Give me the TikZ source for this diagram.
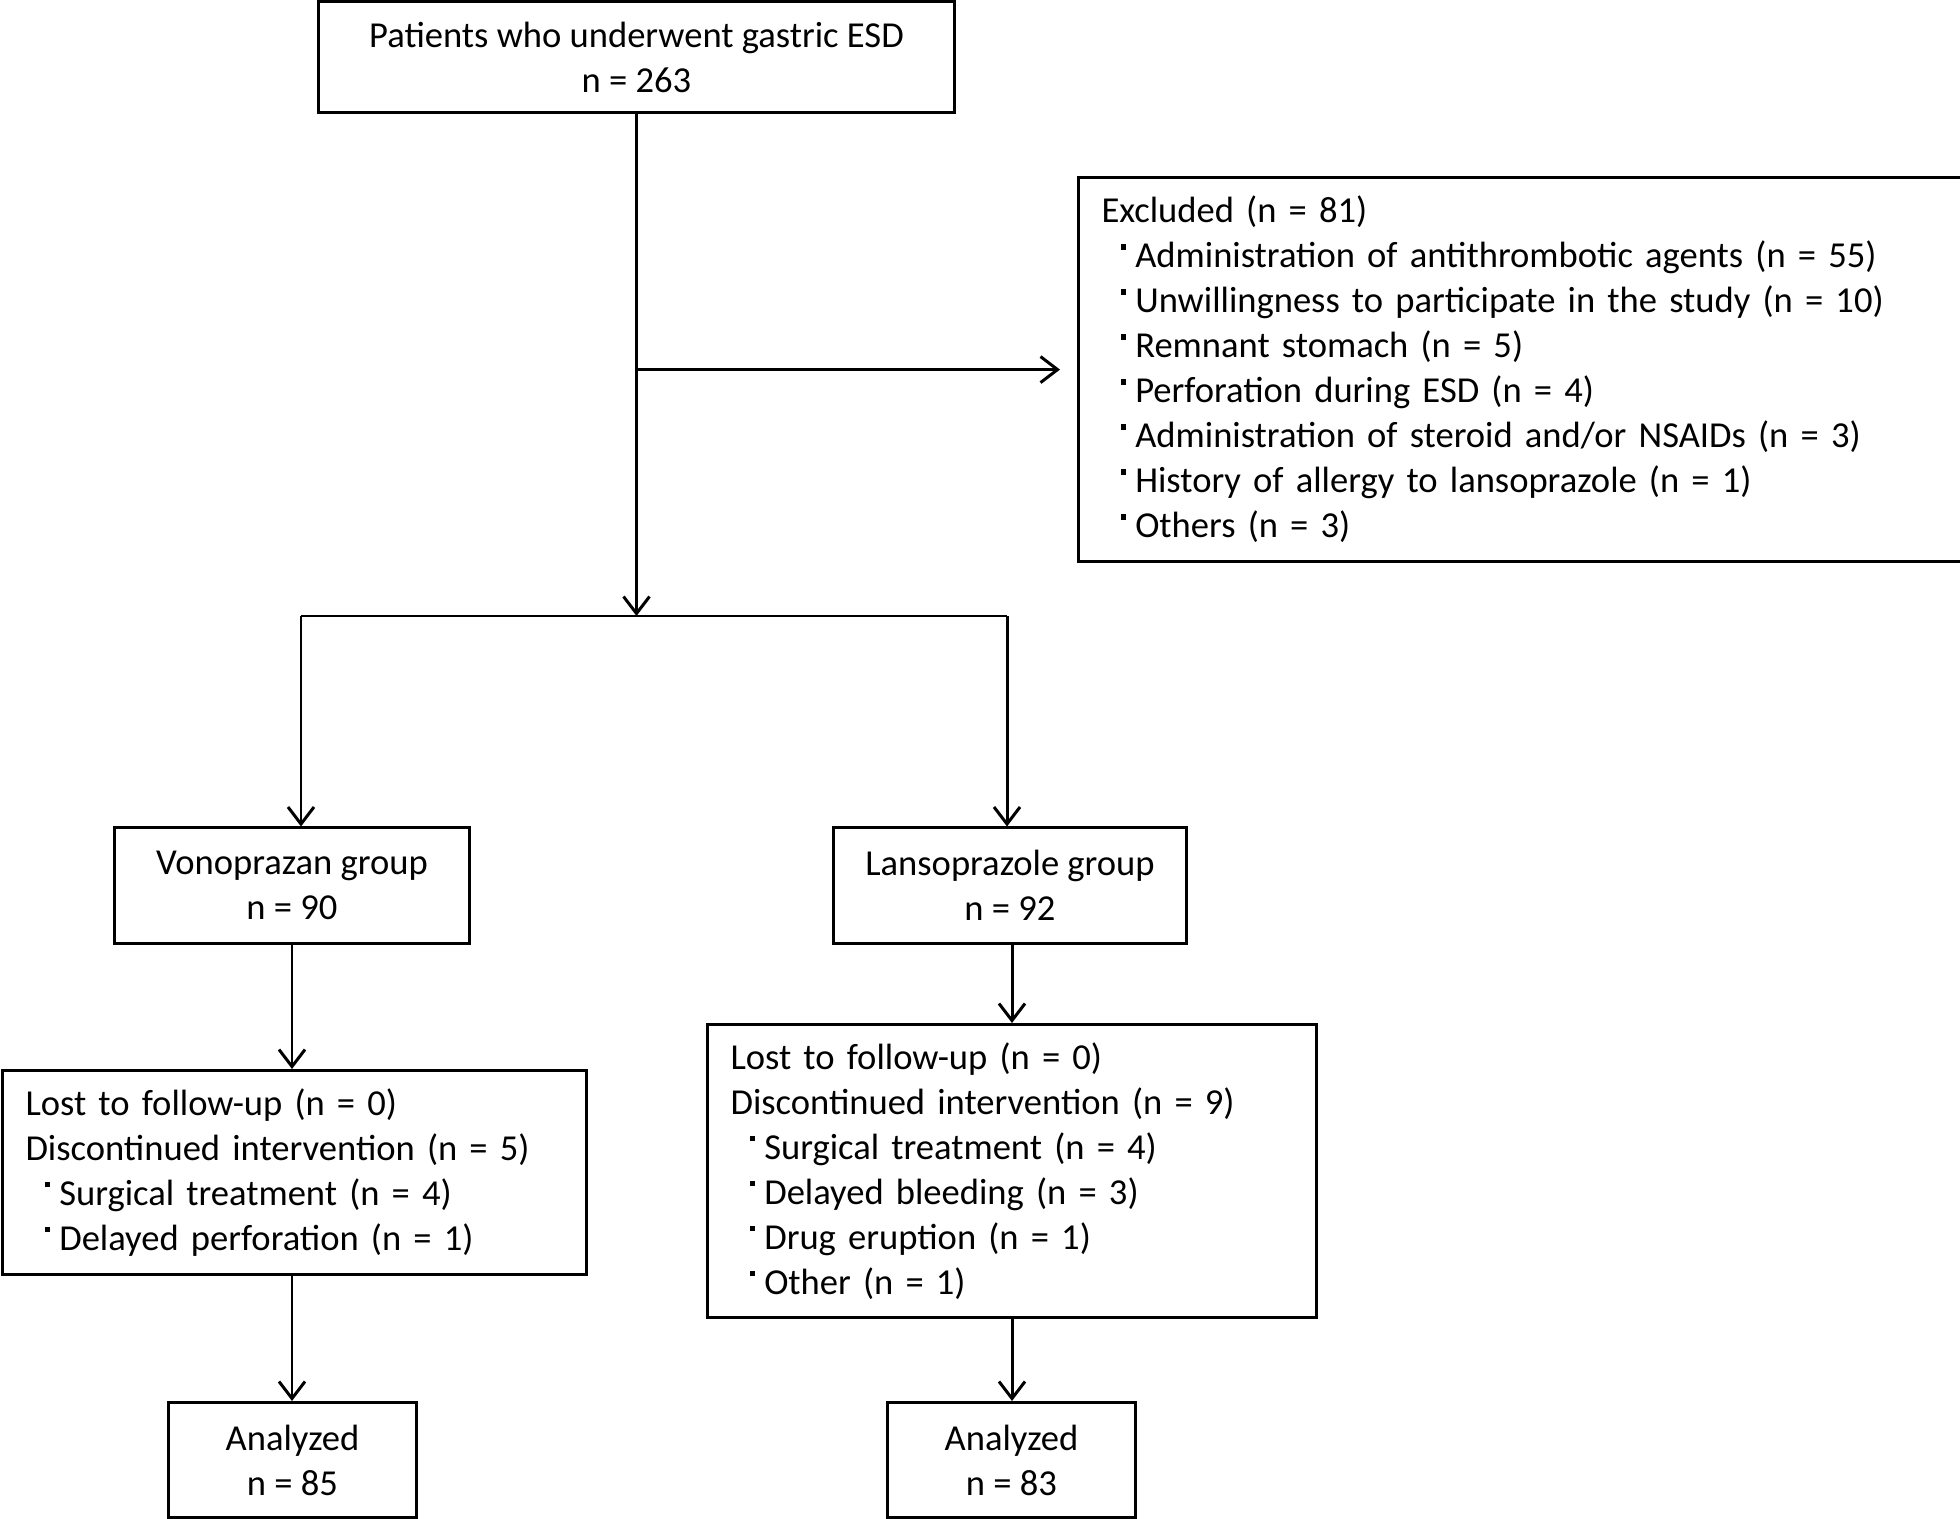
\documentclass[tikz,border=0pt]{standalone}
\usepackage{fontspec}
\setmainfont{Carlito}
\usetikzlibrary{arrows.meta,positioning}
\newcommand{\puce}{\hspace*{5.5pt}\raisebox{0.5em}{\rule{1.6pt}{1.6pt}}\hspace{2.5pt}}

\begin{document}
\begin{tikzpicture}[x=0.01cm, y=-0.01cm, line width=0.85pt,
    font=\fontsize{10.4}{12.8}\selectfont,
    >={Straight Barb[length=0.17cm,width=0.26cm]},
    box/.style={draw, align=center, inner sep=0pt},
    listbox/.style={draw, align=left, inner xsep=0.23cm, inner ysep=0pt, anchor=north west}]
      \useasboundingbox (0,0) rectangle (1960,1519);
      % boxes
      \node[box, minimum width=6.35cm, minimum height=1.1cm] (esd) at (636.5,57) {Patients who underwent gastric ESD\\n = 263};
      \node[listbox, text width=8.36cm, minimum height=3.84cm] (excluded) at (1077,176) {Excluded (n = 81)\\
        \puce Administration of antithrombotic agents (n = 55)\\
        \puce Unwillingness to participate in the study (n = 10)\\
        \puce Remnant stomach (n = 5)\\
        \puce Perforation during ESD (n = 4)\\
        \puce Administration of steroid and/or NSAIDs (n = 3)\\
        \puce History of allergy to lansoprazole (n = 1)\\
        \puce Others (n = 3)};
      \node[box, minimum width=3.54cm, minimum height=1.15cm] (vono) at (292,885.5) {Vonoprazan group\\n = 90};
      \node[box, minimum width=3.52cm, minimum height=1.15cm] (lanso) at (1010,885.5) {Lansoprazole group\\n = 92};
      \node[listbox, text width=5.38cm, minimum height=2.04cm] (lostvono) at (1,1069) {Lost to follow-up (n = 0)\\
        Discontinued intervention (n = 5)\\
        \puce Surgical treatment (n = 4)\\
        \puce Delayed perforation (n = 1)};
      \node[listbox, text width=5.63cm, minimum height=2.93cm] (lostlanso) at (706,1023) {Lost to follow-up (n = 0)\\
        Discontinued intervention (n = 9)\\
        \puce Surgical treatment (n = 4)\\
        \puce Delayed bleeding (n = 3)\\
        \puce Drug eruption (n = 1)\\
        \puce Other (n = 1)};
      \node[box, minimum width=2.47cm, minimum height=1.15cm] (anavono) at (292.5,1460) {Analyzed\\n = 85};
      \node[box, minimum width=2.47cm, minimum height=1.15cm] (analanso) at (1011.5,1460) {Analyzed\\n = 83};
      % connectors
      \coordinate (splitl) at (301,616);
      \coordinate (splitr) at (1007,616);
      \draw[->] (esd.south) -- (esd.south |- splitl);
      \draw[->, shorten >=0.17cm] (esd.south |- excluded.west) -- (excluded.west);
      \draw (splitl) -- (splitr);
      \draw[->] (splitl) -- (splitl |- vono.north);
      \draw[->] (splitr) -- (splitr |- lanso.north);
      \draw[->] (vono.south) -- (vono.south |- lostvono.north);
      \draw[->] ([xshift=0.02cm]lanso.south) -- ([xshift=0.02cm]lanso.south |- lostlanso.north);
      \draw[->] (lostvono.south -| vono.south) -- (anavono.north -| vono.south);
      \draw[->] ([xshift=0.02cm]lostlanso.south -| lanso.south) -- ([xshift=0.02cm]analanso.north -| lanso.south);
    \end{tikzpicture}
\end{document}
